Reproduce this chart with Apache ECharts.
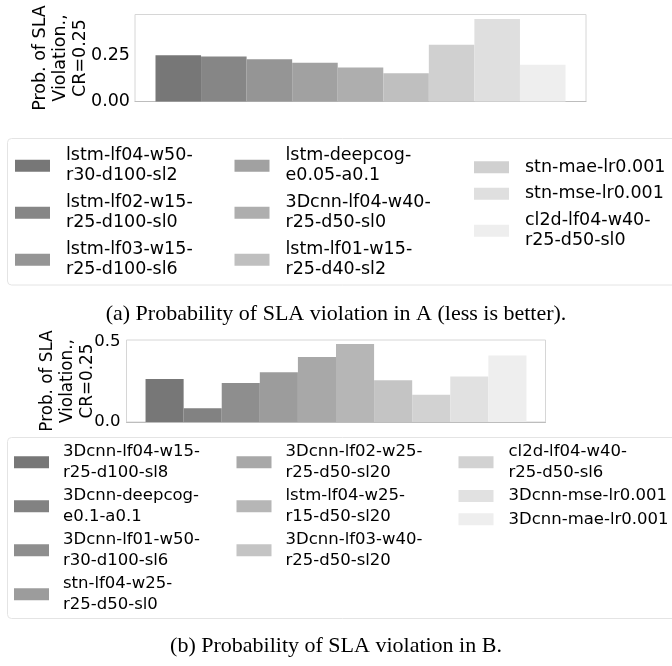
<!DOCTYPE html>
<html>
<head>
<meta charset="utf-8">
<script src="https://cdn.jsdelivr.net/npm/echarts@6/dist/echarts.min.js"></script>
<style>
html,body{margin:0;padding:0;background:#fff;}
#chart{width:672px;height:666px;}
</style>
</head>
<body>
<div id="chart"></div>
<script>
// ---- Data: subfigure (a) ----
const namesA = [
  'lstm-lf04-w50-\nr30-d100-sl2',
  'lstm-lf02-w15-\nr25-d100-sl0',
  'lstm-lf03-w15-\nr25-d100-sl6',
  'lstm-deepcog-\ne0.05-a0.1',
  '3Dcnn-lf04-w40-\nr25-d50-sl0',
  'lstm-lf01-w15-\nr25-d40-sl2',
  'stn-mae-lr0.001',
  'stn-mse-lr0.001',
  'cl2d-lf04-w40-\nr25-d50-sl0'
];
const valuesA = [0.253, 0.246, 0.230, 0.212, 0.186, 0.154, 0.310, 0.451, 0.200];
const colorsA = ['#777777','#868686','#959595','#a1a1a1','#aeaeae','#bfbfbf','#d0d0d0','#dfdfdf','#eeeeee'];
const ticksA = [0.00, 0.25];

// ---- Data: subfigure (b) ----
const namesB = [
  '3Dcnn-lf04-w15-\nr25-d100-sl8',
  '3Dcnn-deepcog-\ne0.1-a0.1',
  '3Dcnn-lf01-w50-\nr30-d100-sl6',
  'stn-lf04-w25-\nr25-d50-sl0',
  '3Dcnn-lf02-w25-\nr25-d50-sl20',
  'lstm-lf04-w25-\nr15-d50-sl20',
  '3Dcnn-lf03-w40-\nr25-d50-sl20',
  'cl2d-lf04-w40-\nr25-d50-sl6',
  '3Dcnn-mse-lr0.001',
  '3Dcnn-mae-lr0.001'
];
const valuesB = [0.267, 0.085, 0.242, 0.310, 0.404, 0.485, 0.260, 0.169, 0.283, 0.414];
const colorsB = ['#777777','#828282','#8e8e8e','#9c9c9c','#a8a8a8','#b6b6b6','#c4c4c4','#d2d2d2','#e1e1e1','#eeeeee'];
const ticksB = [0.0, 0.5];

const yTitle = 'Prob. of SLA\nViolation.,\nCR=0.25';
const captionA = '(a) Probability of SLA violation in A (less is better).';
const captionB = '(b) Probability of SLA violation in B.';

const FONT = 'DejaVu Sans';

function renderBar(params, api) {
  const x = api.value(0), y = api.value(1);
  const p0 = api.coord([x - 0.5, y]);
  const p1 = api.coord([x + 0.5, 0]);
  return {
    type: 'rect',
    shape: { x: p0[0], y: p0[1], width: p1[0] - p0[0], height: p1[1] - p0[1] },
    style: api.style()
  };
}

const series = [];
namesA.forEach((n, i) => {
  series.push({
    type: 'custom', name: n, xAxisIndex: 0, yAxisIndex: 0,
    renderItem: renderBar, itemStyle: { color: colorsA[i] },
    encode: { x: 0, y: 1 },
    data: [[i, valuesA[i]]]
  });
});
namesB.forEach((n, i) => {
  series.push({
    type: 'custom', name: n, xAxisIndex: 1, yAxisIndex: 1,
    renderItem: renderBar, itemStyle: { color: colorsB[i] },
    encode: { x: 0, y: 1 },
    data: [[i, valuesB[i]]]
  });
});

function legendCol(names, left, top, fs, lh, gap, pad) {
  return {
    orient: 'vertical', left: left, top: top, padding: 0,
    itemWidth: 35, itemHeight: 12, itemGap: gap, icon: 'rect',
    selectedMode: false,
    data: names,
    textStyle: { fontFamily: FONT, fontSize: fs, lineHeight: lh, color: '#000', padding: [0, 0, 0, pad] }
  };
}

const option = {
  animation: false,
  textStyle: { fontFamily: FONT },
  grid: [
    { left: 135, right: 86, top: 14.5, height: 87, show: true, borderColor: '#d6d6d6', borderWidth: 1 },
    { left: 126.5, right: 126.5, top: 340, height: 82, show: true, borderColor: '#d6d6d6', borderWidth: 1 }
  ],
  xAxis: [
    { type: 'value', gridIndex: 0, min: -0.95, max: namesA.length - 1 + 0.95,
      axisLine: { show: true, onZero: false, lineStyle: { color: '#bdbdbd' } },
      axisTick: { show: false }, axisLabel: { show: false }, splitLine: { show: false } },
    { type: 'value', gridIndex: 1, min: -1.0, max: namesB.length - 1 + 1.0,
      axisLine: { show: true, onZero: false, lineStyle: { color: '#bdbdbd' } },
      axisTick: { show: false }, axisLabel: { show: false }, splitLine: { show: false } }
  ],
  yAxis: [
    { type: 'value', gridIndex: 0, min: 0, max: 0.475, interval: 0.25,
      axisLine: { show: false }, axisTick: { show: false }, splitLine: { show: false },
      axisLabel: { fontFamily: FONT, fontSize: 17.5, color: '#000', margin: 5, showMaxLabel: false,
        formatter: v => (ticksA.indexOf(v) >= 0 ? v.toFixed(2) : '') },
      name: yTitle, nameLocation: 'middle', nameRotate: 90, nameGap: 45, nameMoveOverlap: false,
      nameTextStyle: { fontFamily: FONT, fontSize: 17.5, lineHeight: 20, color: '#000', align: 'center' } },
    { type: 'value', gridIndex: 1, min: 0, max: 0.51, interval: 0.5,
      axisLine: { show: false }, axisTick: { show: false }, splitLine: { show: false },
      axisLabel: { fontFamily: FONT, fontSize: 16.5, color: '#000', margin: 6, showMaxLabel: false,
        formatter: v => (ticksB.indexOf(v) >= 0 ? v.toFixed(1) : '') },
      name: yTitle, nameLocation: 'middle', nameRotate: 90, nameGap: 29, nameMoveOverlap: false,
      nameTextStyle: { fontFamily: FONT, fontSize: 16.8, lineHeight: 20, color: '#000', align: 'center' } }
  ],
  legend: [
    legendCol(namesA.slice(0, 3), 15, 145.5, 17.5, 20.3, 6.4, 11),
    legendCol(namesA.slice(3, 6), 234.5, 145.5, 17.5, 20.3, 6.4, 11),
    legendCol(namesA.slice(6, 9), 474, 157, 17.5, 20.3, 6.4, 11),
    legendCol(namesB.slice(0, 4), 14, 441.6, 16.5, 20.7, 2.6, 9),
    legendCol(namesB.slice(4, 7), 236.5, 441.6, 16.5, 20.7, 2.6, 9),
    legendCol(namesB.slice(7, 10), 458.5, 441.6, 16.5, 20.7, 2.6, 10)
  ],
  graphic: [
    { type: 'rect', z: -1, shape: { x: 7.5, y: 138.5, width: 700, height: 146.5, r: 4 },
      style: { fill: 'none', stroke: '#e4e4e4', lineWidth: 1 } },
    { type: 'rect', z: -1, shape: { x: 7.5, y: 437.5, width: 700, height: 181, r: 4 },
      style: { fill: 'none', stroke: '#e4e4e4', lineWidth: 1 } },
    { type: 'text', left: 'center', top: 303,
      style: { text: captionA, font: '22px "Liberation Serif", "Times New Roman", serif', fill: '#000' } },
    { type: 'text', left: 'center', top: 635,
      style: { text: captionB, font: '22px "Liberation Serif", "Times New Roman", serif', fill: '#000' } }
  ],
  series: series
};

const chart = echarts.init(document.getElementById('chart'), null, { renderer: 'canvas' });
chart.setOption(option);
</script>
</body>
</html>
